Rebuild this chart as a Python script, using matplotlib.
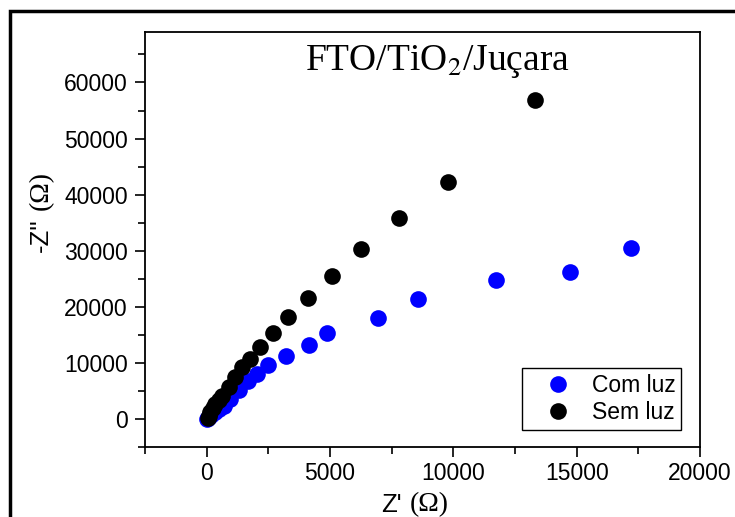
import matplotlib
matplotlib.use("Agg")
import matplotlib.pyplot as plt
from matplotlib.ticker import MultipleLocator
from matplotlib.patches import Rectangle

# Nyquist data
com_luz_x = [17190, 14720, 11740, 8560, 6930, 4890, 4130, 3230, 2490, 2040,
             1660, 1300, 960, 690, 480, 350, 230, 130, 60, 20]
com_luz_y = [30430, 26140, 24770, 21320, 18060, 15360, 13160, 11200, 9550, 8100,
             6730, 5120, 3640, 2270, 1700, 1250, 800, 450, 200, 50]

sem_luz_x = [13330, 9780, 7810, 6270, 5070, 4090, 3300, 2670, 2170, 1770,
             1430, 1160, 890, 620, 480, 350, 240, 150, 90, 50]
sem_luz_y = [56860, 42320, 35790, 30250, 25480, 21560, 18100, 15250, 12860, 10780,
             9180, 7500, 5710, 4160, 3400, 2750, 1900, 1250, 600, 100]

sans = ["Liberation Sans", "DejaVu Sans"]
serif = ["Liberation Serif", "DejaVu Serif"]
plt.rcParams["font.family"] = sans

fig = plt.figure(figsize=(7.35, 5.17), dpi=100)
ax = fig.add_axes([0.1973, 0.1354, 0.7551, 0.8027])

ax.plot(com_luz_x, com_luz_y, "o", color="#0000ff", ms=12, mew=0, label="Com luz")
ax.plot(sem_luz_x, sem_luz_y, "o", color="black", ms=12, mew=0, label="Sem luz")

ax.set_xlim(-2500, 20000)
ax.set_ylim(-5000, 69000)
ax.xaxis.set_major_locator(MultipleLocator(5000))
ax.xaxis.set_minor_locator(MultipleLocator(2500))
ax.yaxis.set_major_locator(MultipleLocator(10000))
ax.yaxis.set_minor_locator(MultipleLocator(5000))
ax.tick_params(which="both", direction="out", top=False, right=False, width=1.2,
               labelsize=16.5)
ax.tick_params(axis="y", pad=5.5)
ax.tick_params(axis="x", pad=4)
ax.tick_params(which="major", length=7)
ax.tick_params(which="minor", length=5)
for s in ax.spines.values():
    s.set_linewidth(1.3)

leg = ax.legend(loc="lower right", bbox_to_anchor=(0.966, 0.041), fontsize=16.5,
                fancybox=False, edgecolor="black", framealpha=1,
                borderaxespad=0, handletextpad=0.1, borderpad=0.25,
                labelspacing=0.2, handlelength=2.7)
leg.get_frame().set_linewidth(1.0)

# title inside the plot, Times-like
ax.text(0.526, 0.928, r"FTO/TiO$_2$/Juçara", transform=ax.transAxes,
        ha="center", va="center", fontsize=27, family=serif,
        math_fontfamily="stix")

# axis labels: mixed sans / serif
fig.text(0.547, 0.024, "Z'", ha="right", va="center", fontsize=18.5, family=sans)
fig.text(0.557, 0.024, "(Ω)", ha="left", va="center", fontsize=20, family=serif)
fig.text(0.056, 0.578, "-Z''", rotation=90, ha="center", va="top",
         fontsize=18.5, family=sans)
fig.text(0.056, 0.593, "(Ω)", rotation=90, ha="center", va="bottom",
         fontsize=20, family=serif)

# outer frame around the figure (cut at right and bottom)
fig.patches.append(Rectangle((0.014, -0.05), 1.1, 1.028, transform=fig.transFigure,
                             fill=False, edgecolor="black", linewidth=2.5))

fig.savefig("out.png", dpi=100)
